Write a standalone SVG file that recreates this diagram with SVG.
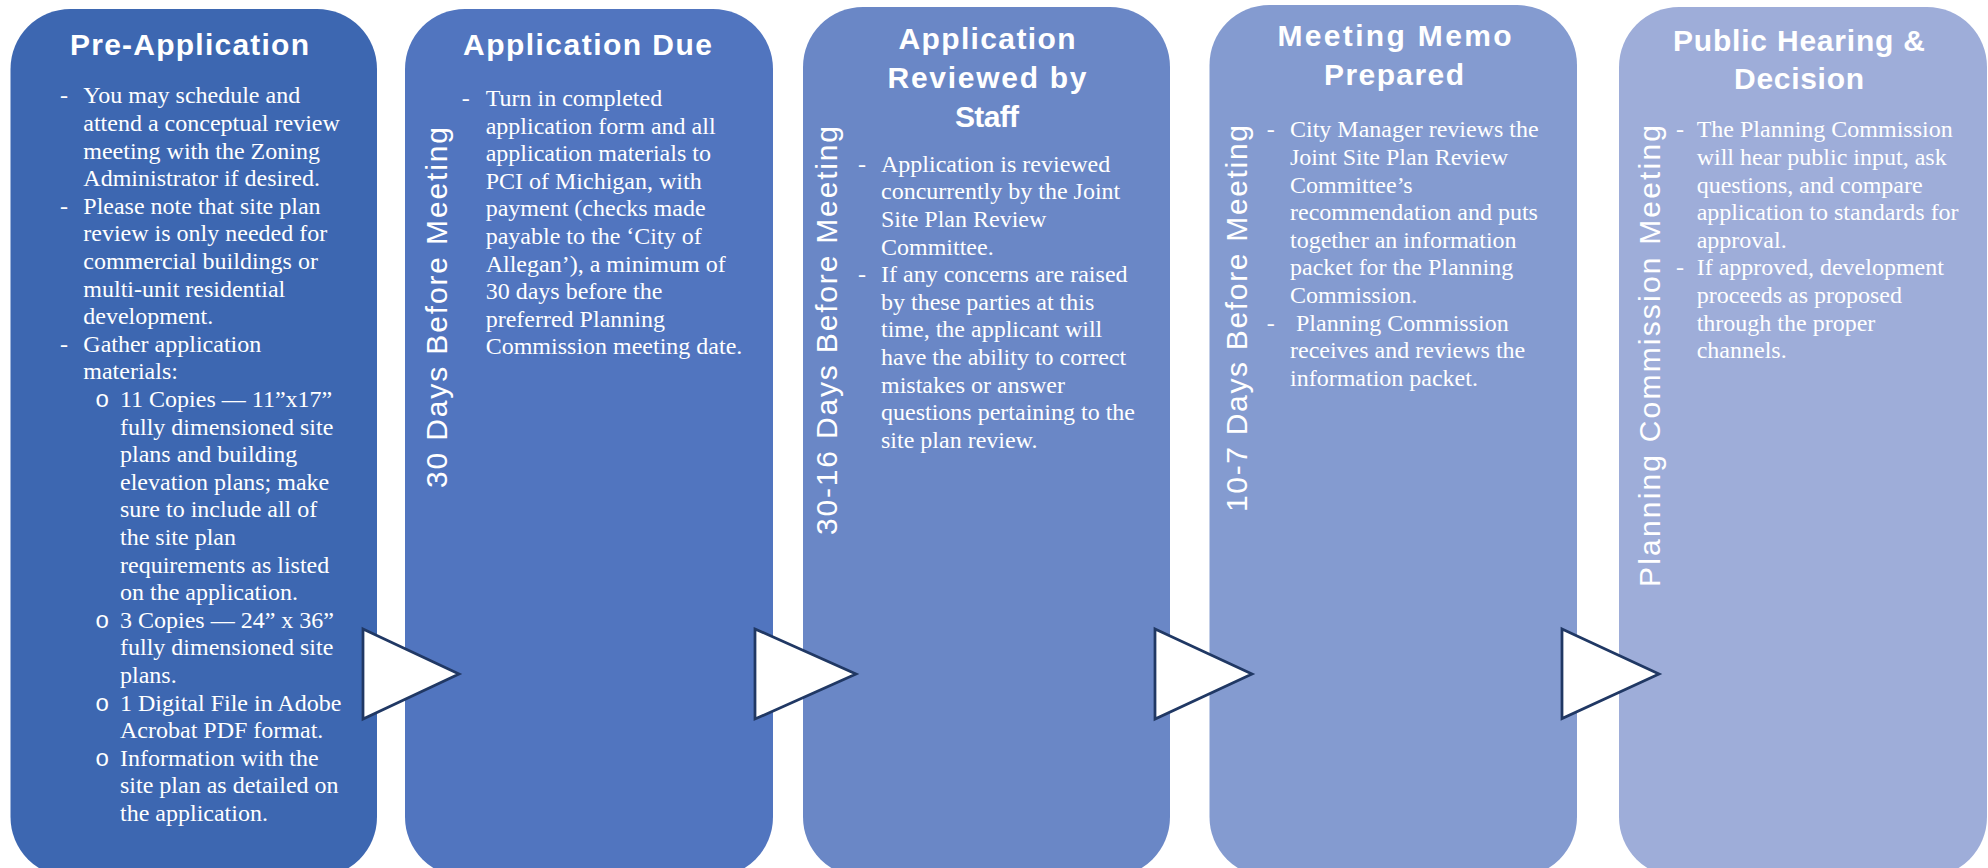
<svg xmlns="http://www.w3.org/2000/svg" width="1988" height="868" viewBox="0 0 1988 868">
<style>
.title{font-family:"Liberation Sans",Arial,sans-serif;font-weight:bold;font-size:30px;fill:#ffffff;text-anchor:middle}
.side{font-family:"Liberation Sans",Arial,sans-serif;font-size:30px;fill:#ffffff}
.body{font-family:"Liberation Serif","Times New Roman",serif;font-size:24px;fill:#ffffff}
.mono{font-family:"Liberation Mono","Courier New",monospace;font-size:24px;fill:#ffffff}
.arrow{fill:#ffffff;stroke:#203864;stroke-width:2.75;stroke-linejoin:miter}
</style>
<rect width="1988" height="868" fill="#ffffff"/>
<g id="node-pre-application">
<rect x="10.5" y="9" width="366.5" height="868" rx="60" ry="60" fill="#3D67B1"/>
<text class="title" x="189.5" y="54.5" textLength="239">Pre-Application</text>
<text class="body">
<tspan x="60" y="103.3">-</tspan><tspan x="83.3" y="103.3">You may schedule and</tspan>
<tspan x="83.3" y="130.9">attend a conceptual review</tspan>
<tspan x="83.3" y="158.5">meeting with the Zoning</tspan>
<tspan x="83.3" y="186.1">Administrator if desired.</tspan>
<tspan x="60" y="213.7">-</tspan><tspan x="83.3" y="213.7">Please note that site plan</tspan>
<tspan x="83.3" y="241.3">review is only needed for</tspan>
<tspan x="83.3" y="268.9">commercial buildings or</tspan>
<tspan x="83.3" y="296.5">multi-unit residential</tspan>
<tspan x="83.3" y="324.1">development.</tspan>
<tspan x="60" y="351.7">-</tspan><tspan x="83.3" y="351.7">Gather application</tspan>
<tspan x="83.3" y="379.3">materials:</tspan>
<tspan x="120" y="406.9">11 Copies — 11”x17”</tspan>
<tspan x="120" y="434.5">fully dimensioned site</tspan>
<tspan x="120" y="462.1">plans and building</tspan>
<tspan x="120" y="489.7">elevation plans; make</tspan>
<tspan x="120" y="517.3">sure to include all of</tspan>
<tspan x="120" y="544.9">the site plan</tspan>
<tspan x="120" y="572.5">requirements as listed</tspan>
<tspan x="120" y="600.1">on the application.</tspan>
<tspan x="120" y="627.7">3 Copies — 24” x 36”</tspan>
<tspan x="120" y="655.3">fully dimensioned site</tspan>
<tspan x="120" y="682.9">plans.</tspan>
<tspan x="120" y="710.5">1 Digital File in Adobe</tspan>
<tspan x="120" y="738.1">Acrobat PDF format.</tspan>
<tspan x="120" y="765.7">Information with the</tspan>
<tspan x="120" y="793.3">site plan as detailed on</tspan>
<tspan x="120" y="820.9">the application.</tspan>
</text>
<text class="mono">
<tspan x="95" y="406.9">o</tspan>
<tspan x="95" y="627.7">o</tspan>
<tspan x="95" y="710.5">o</tspan>
<tspan x="95" y="765.7">o</tspan>
</text>
</g>
<g id="node-application-due">
<rect x="405" y="9" width="368" height="868" rx="60" ry="60" fill="#5175BF"/>
<text class="title" x="587.5" y="54.5" textLength="249">Application Due</text>
<text class="side" transform="translate(446.7,488) rotate(-90)" x="0" y="0" textLength="361">30 Days Before Meeting</text>
<text class="body">
<tspan x="461.7" y="106">-</tspan><tspan x="485.7" y="106">Turn in completed</tspan>
<tspan x="485.7" y="133.6">application form and all</tspan>
<tspan x="485.7" y="161.2">application materials to</tspan>
<tspan x="485.7" y="188.8">PCI of Michigan, with</tspan>
<tspan x="485.7" y="216.4">payment (checks made</tspan>
<tspan x="485.7" y="244">payable to the ‘City of</tspan>
<tspan x="485.7" y="271.6">Allegan’), a minimum of</tspan>
<tspan x="485.7" y="299.2">30 days before the</tspan>
<tspan x="485.7" y="326.8">preferred Planning</tspan>
<tspan x="485.7" y="354.4">Commission meeting date.</tspan>
</text>
</g>
<g id="node-application-reviewed">
<rect x="803" y="7" width="367" height="870" rx="60" ry="60" fill="#6A87C6"/>
<text class="title" x="987" y="49.3" textLength="177">Application</text>
<text class="title" x="987" y="88.3" textLength="199">Reviewed by</text>
<text class="title" x="987" y="127.3" textLength="64">Staff</text>
<text class="side" transform="translate(837,535) rotate(-90)" x="0" y="0" textLength="409">30-16 Days Before Meeting</text>
<text class="body">
<tspan x="858" y="171.7">-</tspan><tspan x="881" y="171.7">Application is reviewed</tspan>
<tspan x="881" y="199.3">concurrently by the Joint</tspan>
<tspan x="881" y="226.9">Site Plan Review</tspan>
<tspan x="881" y="254.5">Committee.</tspan>
<tspan x="858" y="282.1">-</tspan><tspan x="881" y="282.1">If any concerns are raised</tspan>
<tspan x="881" y="309.7">by these parties at this</tspan>
<tspan x="881" y="337.3">time, the applicant will</tspan>
<tspan x="881" y="364.9">have the ability to correct</tspan>
<tspan x="881" y="392.5">mistakes or answer</tspan>
<tspan x="881" y="420.1">questions pertaining to the</tspan>
<tspan x="881" y="447.7">site plan review.</tspan>
</text>
</g>
<g id="node-meeting-memo">
<rect x="1209.5" y="5" width="367.5" height="872" rx="60" ry="60" fill="#849BD0"/>
<text class="title" x="1394.5" y="46" textLength="234">Meeting Memo</text>
<text class="title" x="1394" y="85" textLength="140">Prepared</text>
<text class="side" transform="translate(1246.7,512) rotate(-90)" x="0" y="0" textLength="387">10-7 Days Before Meeting</text>
<text class="body">
<tspan x="1266.7" y="137.3">-</tspan><tspan x="1290" y="137.3">City Manager reviews the</tspan>
<tspan x="1290" y="164.9">Joint Site Plan Review</tspan>
<tspan x="1290" y="192.5">Committee’s</tspan>
<tspan x="1290" y="220.1">recommendation and puts</tspan>
<tspan x="1290" y="247.7">together an information</tspan>
<tspan x="1290" y="275.3">packet for the Planning</tspan>
<tspan x="1290" y="302.9">Commission.</tspan>
<tspan x="1266.7" y="330.5">-</tspan><tspan x="1296" y="330.5">Planning Commission</tspan>
<tspan x="1290" y="358.1">receives and reviews the</tspan>
<tspan x="1290" y="385.7">information packet.</tspan>
</text>
</g>
<g id="node-public-hearing">
<rect x="1619" y="7" width="368" height="870" rx="60" ry="60" fill="#9EADD9"/>
<text class="title" x="1799" y="50.7" textLength="252">Public Hearing &amp;</text>
<text class="title" x="1799" y="89.3" textLength="130">Decision</text>
<text class="side" transform="translate(1660,587) rotate(-90)" x="0" y="0" textLength="462">Planning Commission Meeting</text>
<text class="body">
<tspan x="1676" y="137.3">-</tspan><tspan x="1696.7" y="137.3">The Planning Commission</tspan>
<tspan x="1696.7" y="164.9">will hear public input, ask</tspan>
<tspan x="1696.7" y="192.5">questions, and compare</tspan>
<tspan x="1696.7" y="220.1">application to standards for</tspan>
<tspan x="1696.7" y="247.7">approval.</tspan>
<tspan x="1676" y="275.3">-</tspan><tspan x="1696.7" y="275.3">If approved, development</tspan>
<tspan x="1696.7" y="302.9">proceeds as proposed</tspan>
<tspan x="1696.7" y="330.5">through the proper</tspan>
<tspan x="1696.7" y="358.1">channels.</tspan>
</text>
</g>
<g id="connectors">
<polygon class="arrow" points="363,629 459,674 363,719"/>
<polygon class="arrow" points="755,629 856,674 755,719"/>
<polygon class="arrow" points="1155,629 1252,674 1155,719"/>
<polygon class="arrow" points="1562,629 1659,674 1562,718.5"/>
</g>
</svg>
